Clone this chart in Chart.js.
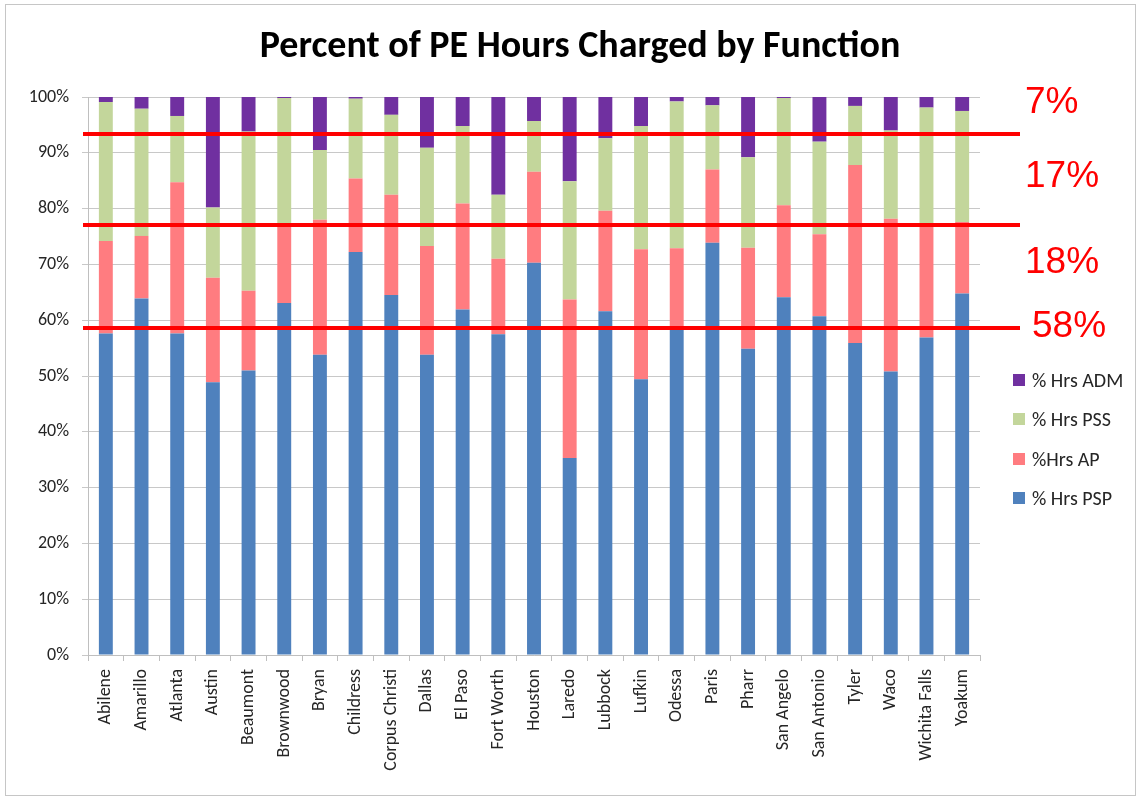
<!DOCTYPE html>
<html>
<head>
<meta charset="utf-8">
<script src="https://cdn.jsdelivr.net/npm/chart.js@4/dist/chart.umd.min.js"></script>
<style>
  html,body{margin:0;padding:0;background:#fff;}
  #wrap{position:relative;width:1143px;height:802px;}
  #frame{position:absolute;left:5px;top:4px;width:1131px;height:792px;border:1.5px solid #c6c6c6;box-sizing:border-box;pointer-events:none;}
  #legend{position:absolute;left:1013px;top:368px;font-family:Carlito,Lato,sans-serif;font-size:20px;color:#262626;}
  .lg{display:flex;align-items:center;height:24px;margin-bottom:15.3px;white-space:nowrap;}
  .lg i{display:inline-block;width:12px;height:12px;margin-right:7px;}
</style>
</head>
<body>
<div id="wrap">
  <canvas id="chart" width="1143" height="802"></canvas>
  <div id="frame"></div>
  <div id="legend"></div>
</div>
<script>
// Categories + series (percent of hours)
const districts = ['Abilene','Amarillo','Atlanta','Austin','Beaumont','Brownwood','Bryan','Childress',
  'Corpus Christi','Dallas','El Paso','Fort Worth','Houston','Laredo','Lubbock','Lufkin','Odessa',
  'Paris','Pharr','San Angelo','San Antonio','Tyler','Waco','Wichita Falls','Yoakum'];
const hrsPSP = [57.6,63.9,57.6,48.9,51.0,63.1,53.8,72.2,64.5,53.8,61.9,57.5,70.3,35.3,61.6,49.4,58.3,73.9,54.9,64.1,60.7,55.9,50.8,56.9,64.8];
const hrsAP  = [16.6,11.2,27.1,18.7,14.3,13.7,24.2,13.2,18.0,19.5,19.0,13.5,16.3,28.4,18.0,23.3,14.6,13.1,18.1,16.5,14.7,31.9,27.4,20.3,12.8];
const hrsPSS = [24.9,22.8,11.9,12.6,28.5,23.0,12.5,14.3,14.3,17.6,13.9,11.5,9.1,21.2,13.0,22.1,26.3,11.5,16.2,19.2,16.6,10.6,15.8,20.9,19.9];
const hrsADM = [0.9,2.1,3.4,19.8,6.2,0.2,9.5,0.3,3.2,9.1,5.2,17.5,4.3,15.1,7.4,5.2,0.8,1.5,10.8,0.2,8.0,1.6,6.0,1.9,2.5];
const yTicks = [0,10,20,30,40,50,60,70,80,90,100];

// red reference lines and their callouts
const refLines    = [93.3, 77.0, 58.6];
const refLabels   = ['7%','17%','18%','58%'];
const refLabelVal = [98.9, 85.7, 70.3, 58.8];

const TITLE = 'Percent of PE Hours Charged by Function';
const FONT = 'Carlito, Lato, sans-serif';

const series = [
  {label:'% Hrs PSP', data:hrsPSP, color:'#4F81BD'},
  {label:'%Hrs AP',   data:hrsAP,  color:'#FF7C80'},
  {label:'% Hrs PSS', data:hrsPSS, color:'#C3D69B'},
  {label:'% Hrs ADM', data:hrsADM, color:'#7030A0'}
];

// title drawn by hand so it centres on the whole picture, not just the plot
const titlePlugin = {
  id:'pageTitle',
  afterDraw(chart) {
    const ctx = chart.ctx;
    ctx.save();
    ctx.fillStyle = '#000';
    ctx.font = 'bold 38px ' + FONT;
    ctx.textAlign = 'center';
    ctx.textBaseline = 'middle';
    ctx.fillText(TITLE, 580, 47);
    ctx.restore();
  }
};

const refPlugin = {
  id:'refLines',
  afterDatasetsDraw(chart) {
    const {ctx, chartArea, scales:{y}} = chart;
    ctx.save();
    ctx.strokeStyle = '#FF0000';
    ctx.lineWidth = 4;
    refLines.forEach(v => {
      const py = Math.round(y.getPixelForValue(v));
      ctx.beginPath();
      ctx.moveTo(chartArea.left - 5, py);
      ctx.lineTo(chartArea.right + 40, py);
      ctx.stroke();
    });
    ctx.fillStyle = '#FF0000';
    ctx.font = '37px "Liberation Sans", Arial, sans-serif';
    ctx.textBaseline = 'middle';
    refLabels.forEach((t,i) => {
      const dx = i === 3 ? 52 : 45;
      ctx.fillText(t, chartArea.right + dx, y.getPixelForValue(refLabelVal[i]));
    });
    ctx.restore();
  }
};

new Chart(document.getElementById('chart'), {
  type:'bar',
  data:{
    labels:districts,
    datasets:series.map(s => ({
      label:s.label, data:s.data, backgroundColor:s.color,
      barPercentage:0.39, categoryPercentage:1, borderWidth:0
    }))
  },
  options:{
    responsive:false, animation:false, devicePixelRatio:1,
    layout:{padding:{left:0,right:163,top:97,bottom:0}},
    plugins:{legend:{display:false}, tooltip:{enabled:false}, title:{display:false}},
    scales:{
      x:{
        stacked:true,
        grid:{display:true,offset:true,drawOnChartArea:false,tickLength:6,color:'#bfbfbf'},
        border:{color:'#bfbfbf'},
        ticks:{autoSkip:false,minRotation:90,maxRotation:90,padding:8,color:'#262626',font:{family:FONT,size:18}},
        afterFit(s){ s.height = 147; }
      },
      y:{
        stacked:true, min:0, max:100,
        afterBuildTicks(s){ s.ticks = yTicks.map(v => ({value:v})); },
        grid:{color:'#c8c8c8',tickLength:6},
        border:{color:'#bfbfbf'},
        ticks:{padding:13,color:'#262626',font:{family:FONT,size:18},callback:v => v + '%'},
        afterFit(s){ s.width = 88; }
      }
    }
  },
  plugins:[refPlugin, titlePlugin]
});

// legend, reverse order like the original
const lg = document.getElementById('legend');
series.slice().reverse().forEach(s => {
  const d = document.createElement('div');
  d.className = 'lg';
  d.innerHTML = `<i style="background:${s.color}"></i><span>${s.label}</span>`;
  lg.appendChild(d);
});
</script>
</body>
</html>
